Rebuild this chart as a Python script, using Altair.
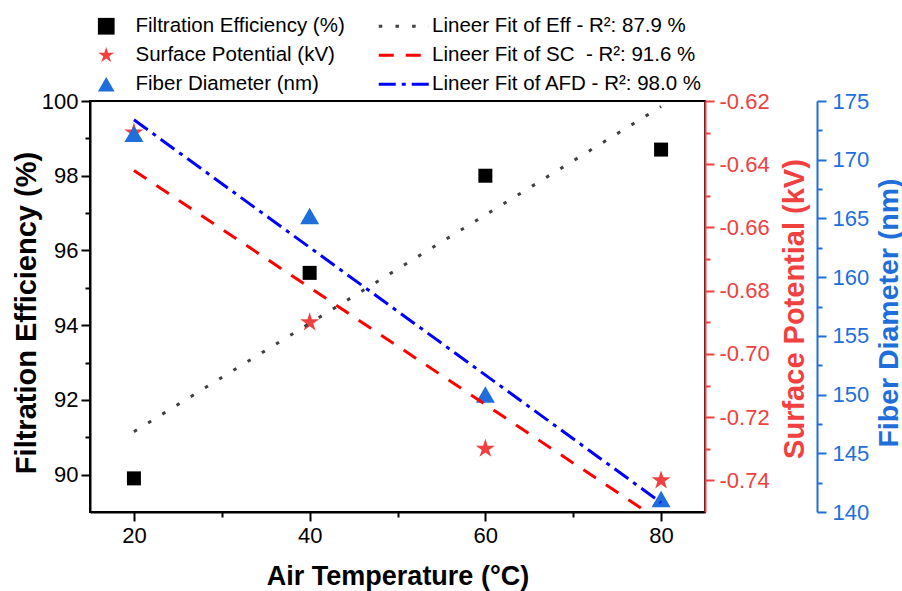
import altair as alt
import pandas as pd

# ---------------- data ----------------
temps = [20, 40, 60, 80]
efficiency = [89.9, 95.4, 98.0, 98.7]          # %
potential = [-0.630, -0.690, -0.730, -0.740]   # kV
diameter = [172.2, 165.2, 150.0, 141.1]        # nm

fit_temps = [20, 80]
eff_fit = [91.15, 99.85]
sp_fit = [-0.642, -0.753]
fd_fit = [173.4, 140.8]

point_names = ["Filtration Efficiency (%)", "Surface Potential (kV)", "Fiber Diameter (nm)"]
fit_names = ["Lineer Fit of Eff - R²: 87.9 %",
             "Lineer Fit of SC\u00a0 - R²: 91.6 %",
             "Lineer Fit of AFD - R²: 98.0 %"]

x_ticks = [20, 30, 40, 50, 60, 70, 80]
eff_ticks = [90, 91, 92, 93, 94, 95, 96, 97, 98, 99, 100]
sp_ticks = [-0.74, -0.73, -0.72, -0.71, -0.70, -0.69, -0.68, -0.67,
            -0.66, -0.65, -0.64, -0.63, -0.62]
fd_ticks = [140, 142.5, 145, 147.5, 150, 152.5, 155, 157.5, 160,
            162.5, 165, 167.5, 170, 172.5, 175]

# ---------------- styling ----------------
FONT = "Liberation Sans"
BLACK = "#000000"
RED_PT = "#F04040"
BLUE_PT = "#1E6FDB"
FIT_COLORS = ["#404040", "#FF0000", "#0000FF"]
FIT_DASH = [[3.5, 13.2], [15, 12], [17, 6, 4, 6]]
STAR = ("M0,-1L0.2245,-0.309L0.951,-0.309L0.363,0.118L0.588,0.809L0,0.382"
        "L-0.588,0.809L-0.363,0.118L-0.951,-0.309L-0.2245,-0.309Z")

W, H = 615, 411

df_eff = pd.DataFrame({"temp": temps, "value": efficiency, "series": point_names[0]})
df_sp = pd.DataFrame({"temp": temps, "value": potential, "series": point_names[1]})
df_fd = pd.DataFrame({"temp": temps, "value": diameter, "series": point_names[2]})
fit_eff = pd.DataFrame({"temp": fit_temps, "value": eff_fit, "fit": fit_names[0]})
fit_sp = pd.DataFrame({"temp": fit_temps, "value": sp_fit, "fit": fit_names[1]})
fit_fd = pd.DataFrame({"temp": fit_temps, "value": fd_fit, "fit": fit_names[2]})


def tick_size(test):
    return {"condition": {"test": test, "value": 9}, "value": 5}


x_enc = alt.X(
    "temp:Q",
    scale=alt.Scale(domain=[15, 85], nice=False, zero=False),
    axis=alt.Axis(
        values=x_ticks,
        labelExpr="datum.value % 20 == 0 ? datum.label : ''",
        tickSize=tick_size("datum.value % 20 == 0"),
        labelPadding=4,
        labelFlush=False,
        labelOverlap=False,
        title="Air Temperature (°C)",
        titleFontSize=27,
        titleLimit=800,
        titleX=W / 2,
        titleY=72,
        titleBaseline="alphabetic",
        domainColor=BLACK,
        tickColor=BLACK,
        labelColor=BLACK,
    ),
)

eff_scale = alt.Scale(domain=[89, 100], nice=False, zero=False)
sp_scale = alt.Scale(domain=[-0.75, -0.62], nice=False, zero=False)
fd_scale = alt.Scale(domain=[140, 175], nice=False, zero=False)

eff_axis = alt.Axis(
    orient="left",
    values=eff_ticks,
    labelExpr="datum.value % 2 == 0 ? datum.label : ''",
    tickSize=tick_size("datum.value % 2 == 0"),
    labelPadding=3,
    labelFlush=False,
    labelOverlap=False,
    title="Filtration Efficiency (%)",
    titleFontSize=29,
    titleLimit=800,
    titleAngle=270,
    titleX=-55,
    titleY=H / 2 + 6,
    titleBaseline="alphabetic",
    titleAlign="center",
    domainColor=BLACK,
    tickColor=BLACK,
    labelColor=BLACK,
    titleColor=BLACK,
)

sp_axis = alt.Axis(
    orient="right",
    values=sp_ticks,
    labelExpr="abs(round(datum.value*100)) % 2 == 0 ? replace(format(datum.value, '.2f'), '\u2212', '-') : ''",
    tickSize=tick_size("abs(round(datum.value*100)) % 2 == 0"),
    labelPadding=5,
    labelFlush=False,
    labelOverlap=False,
    title="Surface Potential (kV)",
    titleFontSize=29,
    titleLimit=800,
    titleAngle=270,
    titleX=98,
    titleY=H / 2 + 2,
    titleBaseline="alphabetic",
    titleAlign="center",
    domainColor=RED_PT,
    tickColor=RED_PT,
    labelColor=RED_PT,
    titleColor=RED_PT,
)

fd_axis = alt.Axis(
    orient="right",
    offset=112,
    values=fd_ticks,
    labelExpr="datum.value % 5 == 0 ? datum.label : ''",
    tickSize=tick_size("datum.value % 5 == 0"),
    labelPadding=6,
    labelFlush=False,
    labelOverlap=False,
    title="Fiber Diameter (nm)",
    titleFontSize=28.5,
    titleLimit=800,
    titleAngle=270,
    titleX=80,
    titleY=H / 2 + 6,
    titleBaseline="alphabetic",
    titleAlign="center",
    domainColor=BLUE_PT,
    tickColor=BLUE_PT,
    labelColor=BLUE_PT,
    titleColor=BLUE_PT,
)

pt_legend = alt.Legend(
    orient="none",
    legendX=6,
    legendY=-85,
    title=None,
    padding=0,
    symbolSize=280,
    symbolStrokeWidth=0,
    labelFontSize=20.5,
    labelFont=FONT,
    labelColor=BLACK,
    labelOffset=19,
    labelLimit=500,
    rowPadding=8,
)

fit_legend = alt.Legend(
    orient="none",
    legendX=303.6,
    legendY=-85,
    title=None,
    padding=0,
    symbolType="M-3,0L3,0",
    symbolSize=280,
    symbolStrokeWidth=3,
    labelFontSize=20.5,
    labelFont=FONT,
    labelColor=BLACK,
    labelOffset=18,
    labelLimit=500,
    rowPadding=8,
)

fill_enc = alt.Fill("series:N",
                    scale=alt.Scale(domain=point_names, range=[BLACK, RED_PT, BLUE_PT]),
                    legend=pt_legend)
shape_enc = alt.Shape("series:N",
                      scale=alt.Scale(domain=point_names, range=["square", STAR, "triangle-up"]),
                      legend=pt_legend)
stroke_enc = alt.Stroke("fit:N",
                        scale=alt.Scale(domain=fit_names, range=FIT_COLORS),
                        legend=fit_legend)
dash_enc = alt.StrokeDash("fit:N",
                          scale=alt.Scale(domain=fit_names, range=FIT_DASH),
                          legend=fit_legend)


def fit_layer(df, scale):
    return alt.Chart(df).mark_line(strokeWidth=3, clip=True).encode(
        x=x_enc,
        y=alt.Y("value:Q", scale=scale, axis=None),
        stroke=stroke_enc,
        strokeDash=dash_enc,
    )


def point_layer(df, scale, axis, size):
    return alt.Chart(df).mark_point(filled=True, size=size, opacity=1, strokeWidth=0).encode(
        x=x_enc,
        y=alt.Y("value:Q", scale=scale, axis=axis),
        fill=fill_enc,
        shape=shape_enc,
    )


chart = alt.layer(
    point_layer(df_eff, eff_scale, eff_axis, 196),
    point_layer(df_sp, sp_scale, sp_axis, 400),
    point_layer(df_fd, fd_scale, fd_axis, 361),
    fit_layer(fit_eff, eff_scale),
    fit_layer(fit_sp, sp_scale),
    fit_layer(fit_fd, fd_scale),
).resolve_scale(
    y="independent"
).properties(
    width=W,
    height=H,
    padding={"left": 90, "top": 101, "right": 197, "bottom": 79},
    autosize=alt.AutoSizeParams(type="none"),
    background="white",
).configure(
    font=FONT,
).configure_view(
    stroke=BLACK,
    strokeWidth=2,
).configure_axis(
    grid=False,
    domainWidth=2,
    tickWidth=2,
    labelFont=FONT,
    labelFontSize=22,
    titleFont=FONT,
    titleFontWeight="bold",
)

chart.save("out.html", embed_options={"renderer": "svg", "actions": False})
